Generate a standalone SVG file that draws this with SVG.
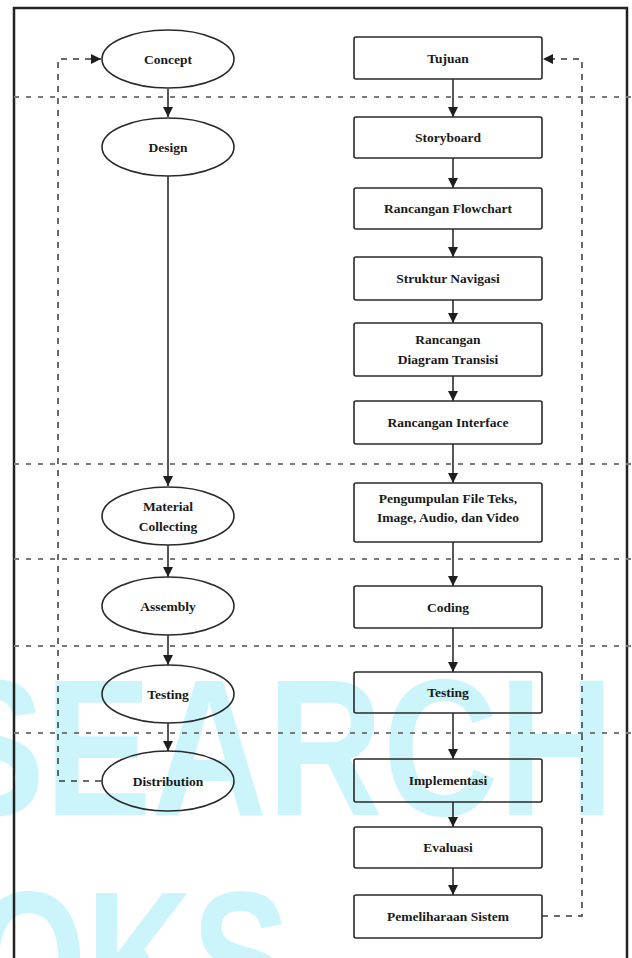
<svg xmlns="http://www.w3.org/2000/svg" width="632" height="958" viewBox="0 0 632 958">
<style>
.wm{font-family:"Liberation Sans",Arial,sans-serif;font-weight:bold;fill:#cbf5fb}
.node{fill:none;stroke:#2a2a2a;stroke-width:1.6}
.t{font-family:"Liberation Serif","Times New Roman",serif;font-size:13.5px;font-weight:bold;fill:#1a1a1a;text-anchor:middle}
.flow{fill:none;stroke:#1e1e1e;stroke-width:1.5}
.dash{fill:none;stroke:#3a3a3a;stroke-width:1.5;stroke-dasharray:6 6}
.dot{fill:none;stroke:#7a7a7a;stroke-width:2;stroke-dasharray:5 7}
</style>
<defs>
<marker id="ah" markerUnits="userSpaceOnUse" markerWidth="11" markerHeight="11" refX="10" refY="5" orient="auto">
<path d="M0,0 L10,5 L0,10 z" fill="#1e1e1e"/>
</marker>
</defs>
<rect width="632" height="958" fill="#fff"/>
<g id="watermark">
<text class="wm" x="-62" y="815" font-size="195" textLength="676" lengthAdjust="spacingAndGlyphs">SEARCH</text>
<text class="wm" x="-28" y="1026" font-size="193" textLength="318" lengthAdjust="spacingAndGlyphs">OKS</text>
</g>
<g id="frame">
<path d="M14,960 L14,8 L627,8 L627,960" fill="none" stroke="#222" stroke-width="2.5"/>
</g>
<g id="separators">
<line class="dot" x1="14" y1="97" x2="632" y2="97"/>
<line class="dot" x1="14" y1="464" x2="632" y2="464"/>
<line class="dot" x1="14" y1="559" x2="632" y2="559"/>
<line class="dot" x1="14" y1="646" x2="632" y2="646"/>
<line class="dot" x1="14" y1="733" x2="632" y2="733"/>
</g>
<g id="connectors">
<line class="flow" x1="168" y1="89" x2="168" y2="117" marker-end="url(#ah)"/>
<line class="flow" x1="168" y1="176" x2="168" y2="486" marker-end="url(#ah)"/>
<line class="flow" x1="168" y1="545" x2="168" y2="577" marker-end="url(#ah)"/>
<line class="flow" x1="168" y1="635" x2="168" y2="665" marker-end="url(#ah)"/>
<line class="flow" x1="168" y1="723" x2="168" y2="751" marker-end="url(#ah)"/>
<line class="flow" x1="453" y1="79" x2="453" y2="117" marker-end="url(#ah)"/>
<line class="flow" x1="453" y1="158" x2="453" y2="188" marker-end="url(#ah)"/>
<line class="flow" x1="453" y1="229" x2="453" y2="257" marker-end="url(#ah)"/>
<line class="flow" x1="453" y1="300" x2="453" y2="323" marker-end="url(#ah)"/>
<line class="flow" x1="453" y1="376" x2="453" y2="401" marker-end="url(#ah)"/>
<line class="flow" x1="453" y1="444" x2="453" y2="483" marker-end="url(#ah)"/>
<line class="flow" x1="453" y1="542" x2="453" y2="586" marker-end="url(#ah)"/>
<line class="flow" x1="453" y1="628" x2="453" y2="672" marker-end="url(#ah)"/>
<line class="flow" x1="453" y1="713" x2="453" y2="759" marker-end="url(#ah)"/>
<line class="flow" x1="453" y1="802" x2="453" y2="827" marker-end="url(#ah)"/>
<line class="flow" x1="453" y1="868" x2="453" y2="895" marker-end="url(#ah)"/>
<path class="dash" d="M101,781 L58,781 L58,59 L101,59" marker-end="url(#ah)"/>
<path class="dash" d="M542,916 L582,916 L582,59 L543,59" marker-end="url(#ah)"/>
</g>
<g id="n-concept"><ellipse class="node" cx="168" cy="59" rx="66" ry="29"/><text class="t" x="168" y="64">Concept</text></g>
<g id="n-design"><ellipse class="node" cx="168" cy="147" rx="66" ry="29"/><text class="t" x="168" y="152">Design</text></g>
<g id="n-material"><ellipse class="node" cx="168" cy="516" rx="66" ry="29"/><text class="t" x="168" y="511">Material</text><text class="t" x="168" y="531">Collecting</text></g>
<g id="n-assembly"><ellipse class="node" cx="168" cy="606" rx="66" ry="29"/><text class="t" x="168" y="611">Assembly</text></g>
<g id="n-testing1"><ellipse class="node" cx="168" cy="694" rx="66" ry="29"/><text class="t" x="168" y="699">Testing</text></g>
<g id="n-distribution"><ellipse class="node" cx="168" cy="781" rx="66" ry="30"/><text class="t" x="168" y="786">Distribution</text></g>
<g id="n-tujuan"><rect class="node" x="354" y="37" width="188" height="42" rx="2"/><text class="t" x="448" y="63">Tujuan</text></g>
<g id="n-storyboard"><rect class="node" x="354" y="117" width="188" height="41" rx="2"/><text class="t" x="448" y="142">Storyboard</text></g>
<g id="n-flowchart"><rect class="node" x="354" y="188" width="188" height="41" rx="2"/><text class="t" x="448" y="213">Rancangan Flowchart</text></g>
<g id="n-navigasi"><rect class="node" x="354" y="257" width="188" height="43" rx="2"/><text class="t" x="448" y="283">Struktur Navigasi</text></g>
<g id="n-transisi"><rect class="node" x="354" y="323" width="188" height="53" rx="2"/><text class="t" x="448" y="344">Rancangan</text><text class="t" x="448" y="364">Diagram Transisi</text></g>
<g id="n-interface"><rect class="node" x="354" y="401" width="188" height="43" rx="2"/><text class="t" x="448" y="427">Rancangan Interface</text></g>
<g id="n-pengumpulan"><rect class="node" x="354" y="483" width="188" height="59" rx="2"/><text class="t" x="448" y="503">Pengumpulan File Teks,</text><text class="t" x="448" y="522">Image, Audio, dan Video</text></g>
<g id="n-coding"><rect class="node" x="354" y="586" width="188" height="42" rx="2"/><text class="t" x="448" y="612">Coding</text></g>
<g id="n-testing2"><rect class="node" x="354" y="672" width="188" height="41" rx="2"/><text class="t" x="448" y="697">Testing</text></g>
<g id="n-implementasi"><rect class="node" x="354" y="759" width="188" height="43" rx="2"/><text class="t" x="448" y="785">Implementasi</text></g>
<g id="n-evaluasi"><rect class="node" x="354" y="827" width="188" height="41" rx="2"/><text class="t" x="448" y="852">Evaluasi</text></g>
<g id="n-pemeliharaan"><rect class="node" x="354" y="895" width="188" height="43" rx="2"/><text class="t" x="448" y="921">Pemeliharaan Sistem</text></g>
</svg>
